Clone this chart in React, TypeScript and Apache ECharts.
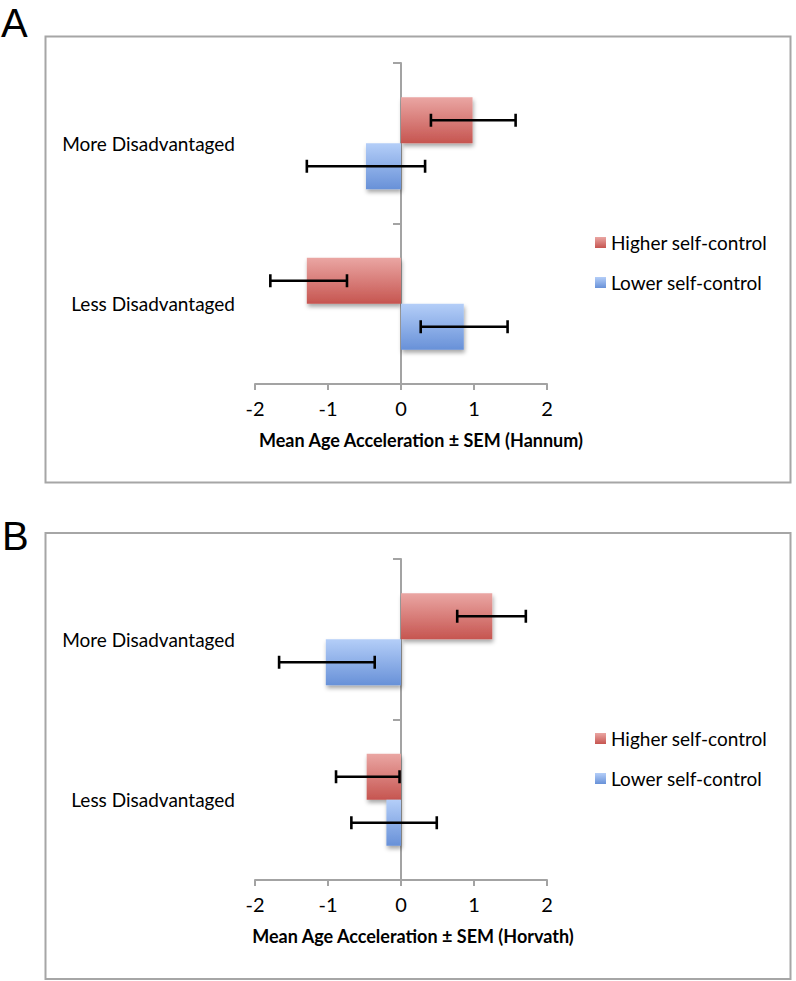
import React, { useEffect, useRef } from 'react';
import * as echarts from 'echarts';

const categories = ['More Disadvantaged', 'Less Disadvantaged'];
const seriesNames = ['Higher self-control', 'Lower self-control'];
const xMin = -2;
const xMax = 2;
const xStep = 1;

// Panel A (Hannum)
const hannumHigher = [0.98, -1.29];
const hannumLower = [-0.48, 0.86];
const hannumHigherErrLow = [0.41, -1.79];
const hannumHigherErrHigh = [1.57, -0.74];
const hannumLowerErrLow = [-1.29, 0.27];
const hannumLowerErrHigh = [0.33, 1.46];

// Panel B (Horvath)
const horvathHigher = [1.25, -0.47];
const horvathLower = [-1.03, -0.2];
const horvathHigherErrLow = [0.77, -0.89];
const horvathHigherErrHigh = [1.71, -0.02];
const horvathLowerErrLow = [-1.67, -0.68];
const horvathLowerErrHigh = [-0.36, 0.49];

const axisTitles = [
  'Mean Age Acceleration \u00B1 SEM (Hannum)',
  'Mean Age Acceleration \u00B1 SEM (Horvath)',
];

const FONT = 'Lato, "Open Sans", sans-serif';
const BAR_W = 46;
const AXIS_GRAY = '#a3a3a3';

const redGrad = () =>
  new echarts.graphic.LinearGradient(0, 0, 0, 1, [
    { offset: 0, color: '#eaa6a3' },
    { offset: 1, color: '#c65550' },
  ]);
const blueGrad = () =>
  new echarts.graphic.LinearGradient(0, 0, 0, 1, [
    { offset: 0, color: '#b4cef8' },
    { offset: 1, color: '#6891d8' },
  ]);

function errRender(sign: number) {
  return (params: any, api: any) => {
    const cat = api.value(2);
    const p1 = api.coord([api.value(0), cat]);
    const p2 = api.coord([api.value(1), cat]);
    const y = p1[1] + (sign * BAR_W) / 2;
    const cap = 6.5;
    const style = { stroke: '#000', lineWidth: 2.6 };
    return {
      type: 'group',
      children: [
        { type: 'line', shape: { x1: p1[0], y1: y, x2: p2[0], y2: y }, style },
        { type: 'line', shape: { x1: p1[0], y1: y - cap, x2: p1[0], y2: y + cap }, style },
        { type: 'line', shape: { x1: p2[0], y1: y - cap, x2: p2[0], y2: y + cap }, style },
      ],
    };
  };
}

function buildOption() {
  const panels = [
    {
      higher: hannumHigher,
      lower: hannumLower,
      hLo: hannumHigherErrLow,
      hHi: hannumHigherErrHigh,
      lLo: hannumLowerErrLow,
      lHi: hannumLowerErrHigh,
      top: 63,
      legendTop: 228,
      titlePad: 40,
    },
    {
      higher: horvathHigher,
      lower: horvathLower,
      hLo: horvathHigherErrLow,
      hHi: horvathHigherErrHigh,
      lLo: horvathLowerErrLow,
      lHi: horvathLowerErrHigh,
      top: 559,
      legendTop: 724,
      titlePad: 24,
    },
  ];

  const grid: any[] = [];
  const xAxis: any[] = [];
  const yAxis: any[] = [];
  const series: any[] = [];
  const legend: any[] = [];

  panels.forEach((p, i) => {
    grid.push({
      left: 255,
      width: 292,
      top: p.top,
      height: 321,
      containLabel: false,
      outerBoundsMode: 'none',
    });
    xAxis.push({
      gridIndex: i,
      type: 'value',
      min: xMin,
      max: xMax,
      interval: xStep,
      axisLine: { show: true, onZero: false, lineStyle: { color: AXIS_GRAY, width: 2 } },
      axisTick: { show: true, length: 6, lineStyle: { color: AXIS_GRAY, width: 2 } },
      splitLine: { show: false },
      axisLabel: { color: '#000', fontSize: 20, fontFamily: FONT, margin: 14 },
      name: axisTitles[i],
      nameLocation: 'middle',
      nameGap: 47,
      nameTextStyle: {
        color: '#000',
        fontSize: 18,
        fontWeight: 'bold',
        fontFamily: FONT,
        padding: [0, 0, 0, p.titlePad],
      },
    });
    yAxis.push({
      gridIndex: i,
      type: 'category',
      data: categories,
      inverse: true,
      axisLine: { show: true, onZero: true, lineStyle: { color: AXIS_GRAY, width: 2 } },
      axisTick: { show: true, length: 8, lineStyle: { color: AXIS_GRAY, width: 2 } },
      axisLabel: { color: '#000', fontSize: 19, fontFamily: FONT, margin: 20, align: 'right' },
    });
    const shadow = {
      shadowColor: 'rgba(0,0,0,0.35)',
      shadowBlur: 4,
      shadowOffsetX: 1,
      shadowOffsetY: 3,
    };
    series.push({
      type: 'bar',
      name: seriesNames[0],
      xAxisIndex: i,
      yAxisIndex: i,
      data: p.higher,
      barWidth: BAR_W,
      barGap: '0%',
      itemStyle: { color: redGrad(), ...shadow },
      z: 2,
    });
    series.push({
      type: 'bar',
      name: seriesNames[1],
      xAxisIndex: i,
      yAxisIndex: i,
      data: p.lower,
      barWidth: BAR_W,
      barGap: '0%',
      itemStyle: { color: blueGrad(), ...shadow },
      z: 2,
    });
    series.push({
      type: 'custom',
      name: 'err-h-' + i,
      xAxisIndex: i,
      yAxisIndex: i,
      renderItem: errRender(-1),
      encode: { x: [0, 1], y: 2 },
      data: categories.map((_, k) => [p.hLo[k], p.hHi[k], k]),
      z: 5,
    });
    series.push({
      type: 'custom',
      name: 'err-l-' + i,
      xAxisIndex: i,
      yAxisIndex: i,
      renderItem: errRender(1),
      encode: { x: [0, 1], y: 2 },
      data: categories.map((_, k) => [p.lLo[k], p.lHi[k], k]),
      z: 5,
    });
    legend.push({
      data: seriesNames,
      orient: 'vertical',
      left: 590,
      top: p.legendTop,
      itemWidth: 11,
      itemHeight: 11,
      itemGap: 21,
      icon: 'rect',
      textStyle: { color: '#000', fontSize: 19, fontFamily: FONT },
    });
  });

  const graphic: any[] = [
    {
      type: 'rect',
      shape: { x: 45.5, y: 36.5, width: 745, height: 446 },
      style: { fill: 'none', stroke: '#a6a6a6', lineWidth: 2 },
    },
    {
      type: 'rect',
      shape: { x: 45.5, y: 533, width: 745, height: 446 },
      style: { fill: 'none', stroke: '#a6a6a6', lineWidth: 2 },
    },
    {
      type: 'text',
      x: 1,
      y: 23,
      style: {
        text: 'A',
        font: '40px "Liberation Sans", Arial, sans-serif',
        fill: '#000',
        verticalAlign: 'middle',
      },
    },
    {
      type: 'text',
      x: 2,
      y: 536,
      style: {
        text: 'B',
        font: '40px "Liberation Sans", Arial, sans-serif',
        fill: '#000',
        verticalAlign: 'middle',
      },
    },
  ];

  return {
    animation: false,
    backgroundColor: '#fff',
    grid,
    xAxis,
    yAxis,
    series,
    legend,
    graphic,
  };
}

export default function App() {
  const ref = useRef<HTMLDivElement>(null);
  useEffect(() => {
    if (!ref.current) return;
    const chart = echarts.init(ref.current, null, { renderer: 'svg' });
    chart.setOption(buildOption() as any);
    return () => chart.dispose();
  }, []);
  return (
    <div
      ref={ref}
      style={{ position: 'absolute', left: 0, top: 0, width: 796, height: 981, background: '#fff' }}
    />
  );
}
